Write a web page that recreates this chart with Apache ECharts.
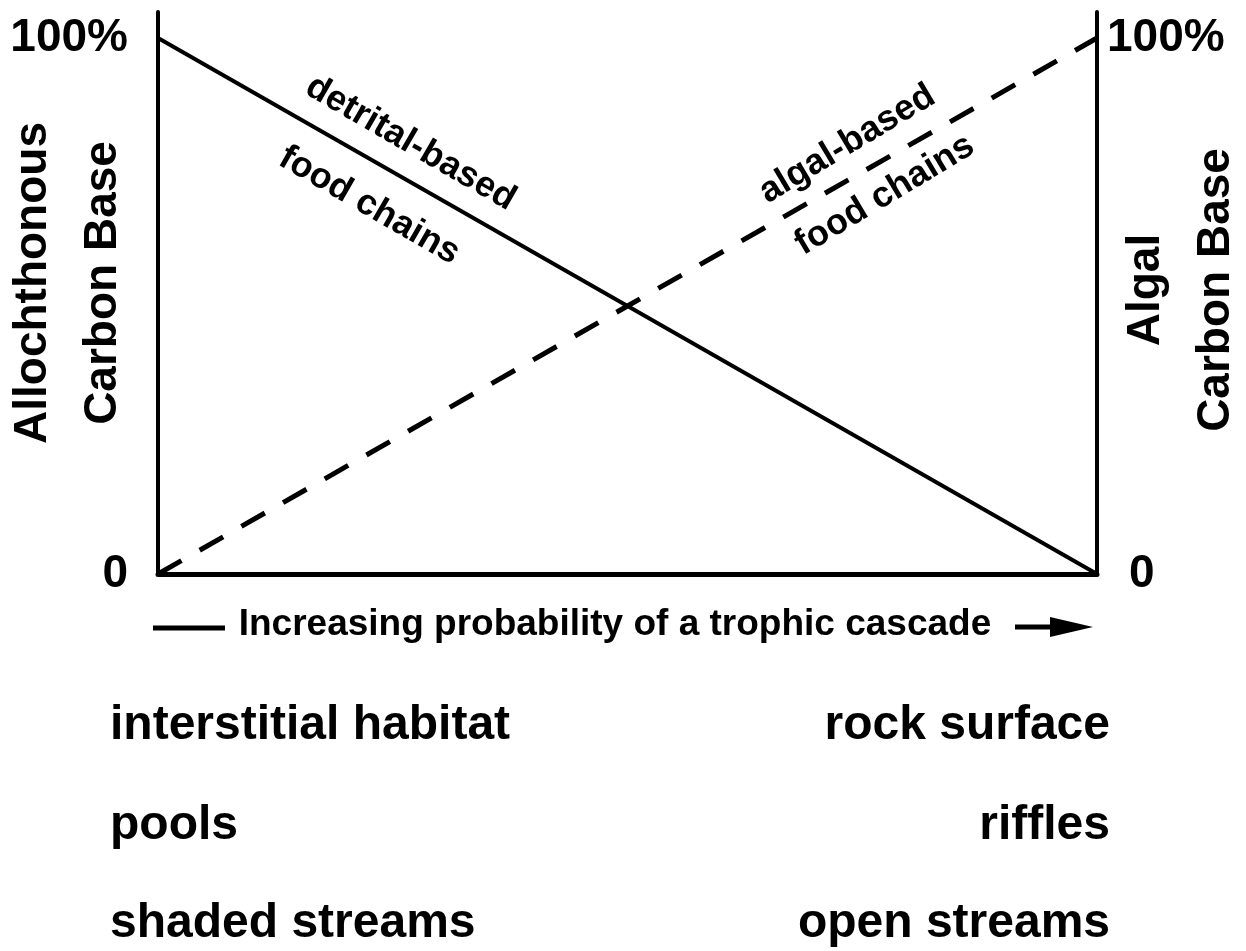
<!DOCTYPE html>
<html>
<head>
<meta charset="utf-8">
<script src="https://cdn.jsdelivr.net/npm/echarts@6/dist/echarts.min.js"></script>
<style>
  html, body { margin: 0; padding: 0; background: #fff; }
  #main { width: 1246px; height: 951px; }
</style>
</head>
<body>
<div id="main"></div>
<script>
// x = probability of a trophic cascade (0..100), y = share of the carbon base (%)
const detritalX = [0, 50, 100];
const detritalY = [100, 50, 0];
const algalX = [0, 50, 100];
const algalY = [0, 50, 100];
const yTickLabels = { 0: '0', 100: '100%' };

const leftAxisName = 'Allochthonous\nCarbon Base';
const rightAxisName = 'Algal\nCarbon Base';
const xAxisName = 'Increasing probability of a trophic cascade';
const leftHabitats = ['interstitial habitat', 'pools', 'shaded streams'];
const rightHabitats = ['rock surface', 'riffles', 'open streams'];

// notes along the lines, placed in data coordinates
const noteText = ['detrital-based', 'food chains', 'algal-based', 'food chains'];
const noteX = [26.9, 22.5, 73.4, 77.4];
const noteY = [80.4, 68.7, 80.2, 70.7];
const noteAngle = [-30, -30, 31, 31];

const FONT = '"Liberation Sans", Arial, Helvetica, sans-serif';
const Y_MAX = 104.85; // axis line runs a little past 100%

const chart = echarts.init(document.getElementById('main'));

function yAxisOpt(pos, name, gap, labelMargin, shiftUp) {
  return {
    type: 'value',
    position: pos,
    min: 0,
    max: Y_MAX,
    interval: 100,
    axisLine: { show: true, lineStyle: { color: '#000', width: 4 } },
    axisTick: { show: false },
    splitLine: { show: false },
    axisLabel: {
      margin: labelMargin,
      color: '#000',
      fontSize: 46,
      fontWeight: 'bold',
      fontFamily: FONT,
      formatter: v => {
        const t = yTickLabels[v] || '';
        return (pos === 'right' && v === 0) ? '{z|0}' : t;
      },
      rich: { z: { padding: [0, 0, 0, 22], fontSize: 46, fontWeight: 'bold', fontFamily: FONT, color: '#000' } }
    },
    name: name,
    nameLocation: 'middle',
    nameRotate: 90,
    nameGap: gap,
    nameMoveOverlap: false,
    nameTextStyle: {
      color: '#000',
      fontSize: 46,
      fontWeight: 'bold',
      fontFamily: FONT,
      lineHeight: 70,
      padding: [0, 0, 0, shiftUp * 2]
    }
  };
}

const option = {
  animation: false,
  backgroundColor: '#fff',
  grid: { left: 158, right: 149, top: 12, bottom: 377, containLabel: false, outerBoundsMode: 'none' },
  xAxis: {
    type: 'value',
    min: 0,
    max: 100,
    axisLine: { show: true, lineStyle: { color: '#000', width: 5 } },
    axisTick: { show: false },
    axisLabel: { show: false },
    splitLine: { show: false }
  },
  yAxis: [
    yAxisOpt('left', leftAxisName, 20, 30, 10),
    yAxisOpt('right', rightAxisName, 14, 10, 3)
  ],
  series: [
    {
      name: 'detrital-based food chains',
      type: 'line',
      yAxisIndex: 0,
      data: detritalX.map((x, i) => [x, detritalY[i]]),
      symbol: 'none',
      lineStyle: { color: '#000', width: 4 }
    },
    {
      name: 'algal-based food chains',
      type: 'line',
      yAxisIndex: 1,
      data: algalX.map((x, i) => [x, algalY[i]]),
      symbol: 'none',
      lineStyle: { color: '#000', width: 5, type: [27, 21] }
    }
  ]
};

chart.setOption(option);

function txt(text, x, y, size, align, rot) {
  return {
    type: 'text',
    x: x,
    y: y,
    rotation: (rot || 0) * Math.PI / 180,
    style: {
      text: text,
      fill: '#000',
      font: 'bold ' + size + 'px ' + FONT,
      align: align, verticalAlign: 'middle',
      textAlign: align, textVerticalAlign: 'middle'
    }
  };
}

const graphics = [];

noteText.forEach((t, i) => {
  const p = chart.convertToPixel({ xAxisIndex: 0, yAxisIndex: 0 }, [noteX[i], noteY[i]]);
  graphics.push(txt(t, p[0], p[1], 36, 'center', noteAngle[i]));
});

// x axis caption with leading dash and trailing arrow
graphics.push(txt(xAxisName, 615, 625, 37, 'center'));
graphics.push({ type: 'line', shape: { x1: 153, y1: 628, x2: 225, y2: 628 }, style: { stroke: '#000', lineWidth: 5 } });
graphics.push({ type: 'line', shape: { x1: 1015, y1: 627, x2: 1060, y2: 627 }, style: { stroke: '#000', lineWidth: 5 } });
graphics.push({ type: 'polygon', shape: { points: [[1050, 617], [1093, 627], [1050, 637]] }, style: { fill: '#000' } });

const rowY = [726, 826, 924];
leftHabitats.forEach((t, i) => graphics.push(txt(t, 110, rowY[i], 48, 'left')));
rightHabitats.forEach((t, i) => graphics.push(txt(t, 1110, rowY[i], 48, 'right')));

chart.setOption({ graphic: graphics });
</script>
</body>
</html>
